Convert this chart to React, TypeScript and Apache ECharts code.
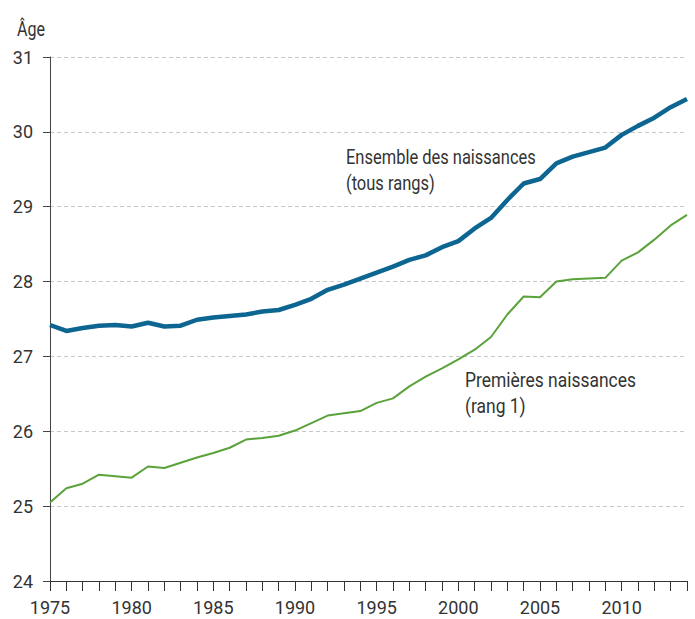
import React, { useEffect, useRef } from "react";
import * as echarts from "echarts";

const years: number[] = [
  1975, 1976, 1977, 1978, 1979, 1980, 1981, 1982, 1983, 1984,
  1985, 1986, 1987, 1988, 1989, 1990, 1991, 1992, 1993, 1994,
  1995, 1996, 1997, 1998, 1999, 2000, 2001, 2002, 2003, 2004,
  2005, 2006, 2007, 2008, 2009, 2010, 2011, 2012, 2013, 2014,
];

const ensemble: number[] = [
  27.42, 27.34, 27.38, 27.41, 27.42, 27.4, 27.45, 27.4, 27.41, 27.49,
  27.52, 27.54, 27.56, 27.6, 27.62, 27.69, 27.77, 27.89, 27.96, 28.04,
  28.12, 28.2, 28.29, 28.35, 28.46, 28.54, 28.71, 28.85, 29.09, 29.31,
  29.37, 29.58, 29.67, 29.73, 29.79, 29.96, 30.08, 30.19, 30.33, 30.44,
];

const premieres: number[] = [
  25.05, 25.24, 25.3, 25.42, 25.4, 25.38, 25.53, 25.51, 25.58, 25.65,
  25.71, 25.78, 25.89, 25.91, 25.94, 26.01, 26.11, 26.21, 26.24, 26.27,
  26.38, 26.44, 26.6, 26.73, 26.84, 26.96, 27.09, 27.26, 27.56, 27.8,
  27.79, 28.0, 28.03, 28.04, 28.05, 28.28, 28.39, 28.56, 28.75, 28.89,
];

const yTicks = { min: 24, max: 31, interval: 1 };
const xRange = { min: 1975, max: 2014, labelStep: 5 };

const yTitle = "Âge";
const ensembleLines = ["Ensemble des naissances", "(tous rangs)"];
const premieresLines = ["Premières naissances", "(rang 1)"];

const FONT = "Roboto, 'Liberation Sans', sans-serif";
const TXT = "#333333";

function measure(text: string, size: number): number {
  const c = document.createElement("canvas").getContext("2d");
  if (!c) return text.length * size * 0.5;
  c.font = `${size}px Roboto`;
  return c.measureText(text).width;
}

export default function App() {
  const ref = useRef<HTMLDivElement>(null);

  useEffect(() => {
    if (!ref.current) return;
    const chart = echarts.init(ref.current, undefined, { renderer: "svg" });

    const annSize = 21;
    // condense the annotation text to the narrow look of the reference
    const sxEns = 190 / measure(ensembleLines[0], annSize);
    const sxPrem = 171 / measure(premieresLines[0], annSize);
    const sxAge = 28 / measure(yTitle, 20);

    const option: any = {
      animation: false,
      backgroundColor: "#ffffff",
      textStyle: { fontFamily: FONT },
      grid: { left: 50, right: 8, top: 57, bottom: 38, containLabel: false },
      xAxis: {
        type: "value",
        min: xRange.min,
        max: xRange.max,
        interval: 1,
        axisLine: { show: true, lineStyle: { color: "#333", width: 1 } },
        axisTick: { show: true, length: 10, inside: false, lineStyle: { color: "#333", width: 1 } },
        axisLabel: {
          show: true,
          fontSize: 18,
          color: TXT,
          fontFamily: FONT,
          margin: 17,
          showMinLabel: true,
          showMaxLabel: true,
          formatter: (v: number) => ((v - xRange.min) % xRange.labelStep === 0 ? String(v) : ""),
        },
        splitLine: { show: false },
      },
      yAxis: {
        type: "value",
        min: yTicks.min,
        max: yTicks.max,
        interval: yTicks.interval,
        axisLine: { show: true, lineStyle: { color: "#444", width: 1 } },
        axisTick: { show: true, length: 7, inside: false, lineStyle: { color: "#444", width: 1 } },
        axisLabel: { fontSize: 18, color: TXT, fontFamily: FONT, margin: 17 },
        splitLine: { show: true, lineStyle: { color: "#c8c8c8", width: 1, type: [4, 3] } },
      },
      series: [
        {
          name: "Ensemble des naissances",
          type: "line",
          data: years.map((y, i) => [y, ensemble[i]]),
          showSymbol: false,
          lineStyle: { color: "#0d6592", width: 4.5 },
          itemStyle: { color: "#0d6592" },
          z: 3,
        },
        {
          name: "Premières naissances",
          type: "line",
          data: years.map((y, i) => [y, premieres[i]]),
          showSymbol: false,
          lineStyle: { color: "#5aa23a", width: 2 },
          itemStyle: { color: "#5aa23a" },
          z: 2,
        },
      ],
      graphic: [
        {
          type: "text",
          x: 17,
          y: 29,
          scaleX: sxAge,
          style: { text: yTitle, fontSize: 20, fill: TXT, fontFamily: FONT, verticalAlign: "middle" },
        },
        {
          type: "text",
          x: 346,
          y: 144,
          scaleX: sxEns,
          style: {
            text: ensembleLines.join("\n"),
            fontSize: annSize,
            lineHeight: 26,
            fill: TXT,
            fontFamily: FONT,
            verticalAlign: "top",
          },
        },
        {
          type: "text",
          x: 465,
          y: 367,
          scaleX: sxPrem,
          style: {
            text: premieresLines.join("\n"),
            fontSize: annSize,
            lineHeight: 26,
            fill: TXT,
            fontFamily: FONT,
            verticalAlign: "top",
          },
        },
      ],
    };
    chart.setOption(option);
    return () => chart.dispose();
  }, []);

  return (
    <div
      ref={ref}
      style={{ position: "absolute", left: 0, top: 0, width: 695, height: 619, background: "#fff" }}
    />
  );
}
